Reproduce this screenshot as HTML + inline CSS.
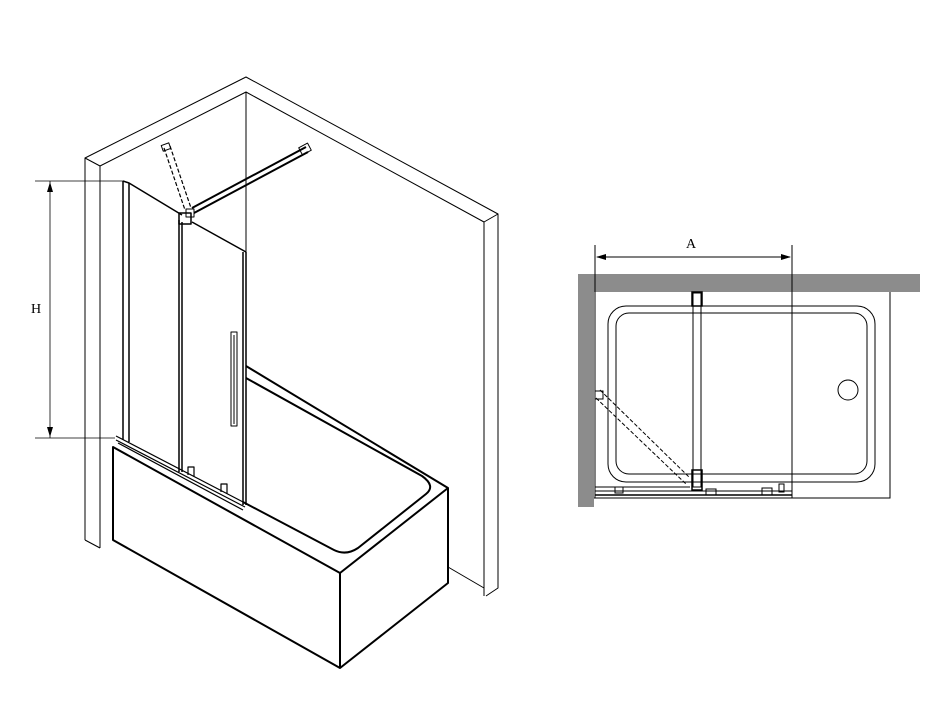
<!DOCTYPE html>
<html><head><meta charset="utf-8"><style>
html,body{margin:0;padding:0;background:#fff;}
svg{display:block;}
text{font-family:"Liberation Serif",serif;font-size:14px;fill:#000;}
</style></head><body>
<svg width="940" height="715" viewBox="0 0 940 715" xmlns="http://www.w3.org/2000/svg">
<g fill="none" stroke="#000" stroke-width="1" stroke-linejoin="round">
<!-- walls -->
<polyline points="85,540 85,158 246,77 498,214 498,588 486,596"/>
<polyline points="85,158 100,166 246,92 484,222 484,596"/>
<line x1="498" y1="214" x2="484" y2="222"/>
<line x1="100" y1="166" x2="100" y2="548"/>
<line x1="85" y1="540" x2="100" y2="548"/>
<line x1="246" y1="92" x2="246" y2="366"/>
<line x1="448" y1="567" x2="484" y2="588"/>
<!-- tub -->
<g stroke-width="2">
<polygon points="113,447 340,573 448,488 448,583 340,668 113,540"/>
<line x1="340" y1="573" x2="340" y2="668"/>
<polyline points="246,366 448,488"/>
<path d="M246,378 L422,476 Q436,486 426,494 L358,548 Q346,556 334,550 L243,502"/>
</g>
<!-- glass fixed -->
<g stroke-width="1.5">
<line x1="123" y1="181" x2="123" y2="440"/>
<line x1="129" y1="183" x2="129" y2="442"/>
<polyline points="123,181 129,183 182,215"/>
<!-- sliding panel -->
<line x1="179" y1="220" x2="179" y2="472"/>
<line x1="182" y1="222" x2="182" y2="472"/>
<line x1="192" y1="222" x2="246" y2="252"/>
<line x1="243" y1="252" x2="243" y2="505"/>
<line x1="246" y1="252" x2="246" y2="505"/>
</g>
<!-- handle -->
<rect x="231" y="332" width="6" height="94" stroke-width="1"/>
<line x1="234" y1="335" x2="234" y2="424"/>
<!-- bracket -->
<rect x="179" y="213" width="12" height="11" stroke-width="1.5"/>
<rect x="186" y="209" width="8" height="8"/>
<!-- bar -->
<line x1="192" y1="208" x2="306" y2="147" stroke-width="2"/>
<line x1="194" y1="213" x2="308" y2="152" stroke-width="2"/>
<rect x="300" y="145" width="10" height="8" transform="rotate(-28 305 149)"/>
<!-- dashed strut -->
<line x1="164" y1="148" x2="185" y2="210" stroke-dasharray="4,2" stroke-width="1.2"/>
<line x1="170" y1="146" x2="191" y2="208" stroke-dasharray="4,2" stroke-width="1.2"/>
<rect x="162" y="144" width="8" height="6" transform="rotate(-20 166 147)"/>
<!-- bottom track -->
<g stroke-width="1.2">
<line x1="116" y1="436" x2="245" y2="503"/>
<line x1="116" y1="440" x2="245" y2="507"/>
<line x1="118" y1="443" x2="243" y2="510"/>
<path d="M188,475 v-8 h6 v10"/>
<path d="M221,492 v-8 h6 v10"/>
</g>
<!-- H dimension -->
<line x1="35" y1="181" x2="123" y2="181" stroke-width="0.8"/>
<line x1="35" y1="438" x2="115" y2="438" stroke-width="0.8"/>
<line x1="50" y1="181" x2="50" y2="438" stroke-width="0.8"/>
</g>
<polygon points="50,182 47,192 53,192" fill="#000"/>
<polygon points="50,437 47,427 53,427" fill="#000"/>
<text x="31" y="313">H</text>

<!-- right plan -->
<rect x="578" y="274" width="342" height="18" fill="#8c8c8c"/>
<rect x="578" y="274" width="16" height="233" fill="#8c8c8c"/>
<g fill="none" stroke="#000" stroke-width="1">
<polyline points="594,498 890,498 890,292"/>
<line x1="595" y1="245" x2="595" y2="498"/>
<line x1="792" y1="245" x2="792" y2="498"/>
<line x1="597" y1="257" x2="790" y2="257"/>
<rect x="608" y="306" width="267" height="176" rx="18"/>
<rect x="616" y="313" width="251" height="161" rx="13"/>
<circle cx="848" cy="390" r="10"/>
<rect x="693" y="293" width="8" height="194"/>
<rect x="692" y="292" width="10" height="14" stroke-width="1.5"/>
<rect x="692" y="470" width="10" height="20" stroke-width="1.5"/>
<line x1="600" y1="390" x2="690" y2="478" stroke-dasharray="4,2"/>
<line x1="596" y1="398" x2="686" y2="484" stroke-dasharray="4,2"/>
<rect x="595" y="391" width="8" height="8"/>
<line x1="595" y1="487" x2="690" y2="487"/>
<line x1="595" y1="491" x2="792" y2="491"/>
<line x1="595" y1="495" x2="792" y2="495" stroke-width="1.5"/>
<rect x="615" y="487" width="8" height="6"/>
<rect x="706" y="489" width="10" height="6"/>
<rect x="762" y="488" width="10" height="7"/>
<rect x="779" y="484" width="5" height="8"/>
</g>
<polygon points="596,257 606,254 606,260" fill="#000"/>
<polygon points="791,257 781,254 781,260" fill="#000"/>
<text x="686" y="248">A</text>
</svg>
</body></html>
